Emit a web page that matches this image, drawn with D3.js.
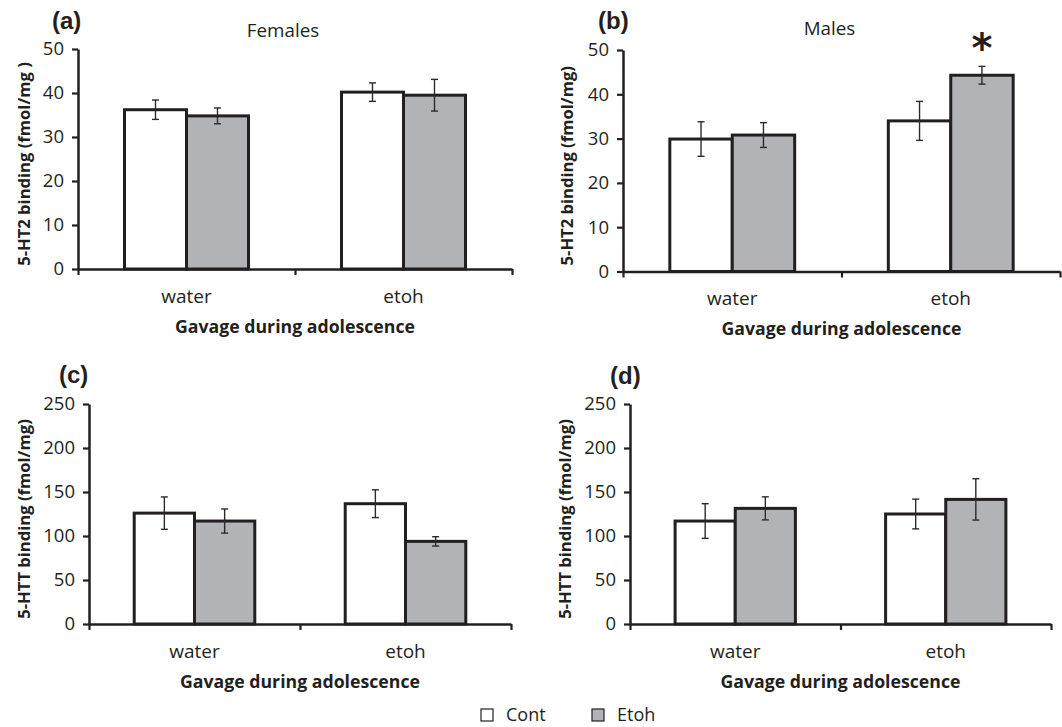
<!DOCTYPE html>
<html>
<head>
<meta charset="utf-8">
<script src="https://cdn.jsdelivr.net/npm/d3@7/dist/d3.min.js"></script>
<style>
  body { margin: 0; background: #fff; }
  svg text { fill: #231f20; }
</style>
</head>
<body>
<svg id="chart" width="1062" height="727"></svg>
<script>
// categories and series
var categories = ["water", "etoh"];
var series = ["Cont", "Etoh"];

// (a) females, 5-HT2 binding
var ht2FemaleCont = [36.2, 40.2], ht2FemaleContErr = [2.2, 2.1];
var ht2FemaleEtoh = [34.8, 39.5], ht2FemaleEtohErr = [1.8, 3.6];
// (b) males, 5-HT2 binding
var ht2MaleCont = [29.9, 34.0], ht2MaleContErr = [3.9, 4.4];
var ht2MaleEtoh = [30.8, 44.3], ht2MaleEtohErr = [2.8, 2.0];
// (c) 5-HTT binding
var httCCont = [126, 136.7], httCContErr = [18.4, 15.8];
var httCEtoh = [117, 93.9], httCEtohErr = [13.7, 5.3];
// (d) 5-HTT binding
var httDCont = [117, 125], httDContErr = [19.7, 16.9];
var httDEtoh = [131.4, 141.6], httDEtohErr = [13.1, 23.5];

var ht2Ticks = [0, 10, 20, 30, 40, 50];
var httTicks = [0, 50, 100, 150, 200, 250];

var panels = [
    {tag: "(a)", title: "Females", ylabel: "5-HT2 binding (fmol/mg )", ticks: ht2Ticks,
     cont: ht2FemaleCont, contErr: ht2FemaleContErr, etoh: ht2FemaleEtoh, etohErr: ht2FemaleEtohErr,
     star: null,
     box: {x0: 78, x1: 512, yTop: 49, y0: 269, labelX: 30, tagX: 52, tagY: 29, titleY: 37, catY: 303, xtitleY: 333}},
    {tag: "(b)", title: "Males", ylabel: "5-HT2 binding (fmol/mg)", ticks: ht2Ticks,
     cont: ht2MaleCont, contErr: ht2MaleContErr, etoh: ht2MaleEtoh, etohErr: ht2MaleEtohErr,
     star: 1,
     box: {x0: 623, x1: 1060, yTop: 50, y0: 271.5, labelX: 573, tagX: 598, tagY: 29, titleY: 35, catY: 305, xtitleY: 335}},
    {tag: "(c)", title: "", ylabel: "5-HTT binding (fmol/mg)", ticks: httTicks,
     cont: httCCont, contErr: httCContErr, etoh: httCEtoh, etohErr: httCEtohErr,
     star: null,
     box: {x0: 89, x1: 511, yTop: 404, y0: 624, labelX: 30, tagX: 59, tagY: 383, titleY: 0, catY: 658, xtitleY: 688}},
    {tag: "(d)", title: "", ylabel: "5-HTT binding (fmol/mg)", ticks: httTicks,
     cont: httDCont, contErr: httDContErr, etoh: httDEtoh, etohErr: httDEtohErr,
     star: null,
     box: {x0: 630, x1: 1051, yTop: 404, y0: 624, labelX: 571, tagX: 610, tagY: 384, titleY: 0, catY: 658, xtitleY: 688}}
];

var fills = {Cont: "#ffffff", Etoh: "#b2b3b6"};
var ink = "#231f20";
var font = "'Open Sans', sans-serif";

var svg = d3.select("#chart");

panels.forEach(drawPanel);
drawLegend();

function drawPanel(p) {
    var b = p.box;
    var g = svg.append("g");

    var x = d3.scaleBand().domain(categories).range([b.x0, b.x1]);
    var xs = d3.scaleBand().domain(series).range([0, x.bandwidth()]).paddingOuter(0.75);
    var y = d3.scaleLinear().domain([0, d3.max(p.ticks)]).range([b.y0, b.yTop]);

    var rows = [];
    categories.forEach(function(c, i) {
        rows.push({cat: c, s: "Cont", v: p.cont[i], e: p.contErr[i]});
        rows.push({cat: c, s: "Etoh", v: p.etoh[i], e: p.etohErr[i]});
    });

    g.selectAll(".bar").data(rows).enter()
        .append("rect")
        .attr("class", "bar")
        .attr("x", function(d) { return x(d.cat) + xs(d.s); })
        .attr("y", function(d) { return y(d.v); })
        .attr("width", xs.bandwidth())
        .attr("height", function(d) { return y(0) - y(d.v); })
        .attr("fill", function(d) { return fills[d.s]; })
        .attr("stroke", ink)
        .attr("stroke-width", 3);

    // error bars
    var eb = g.selectAll(".err").data(rows).enter().append("g")
        .attr("class", "err")
        .attr("transform", function(d) { return "translate(" + (x(d.cat) + xs(d.s) + xs.bandwidth() / 2) + ",0)"; })
        .attr("stroke", "#2b2b2b")
        .attr("stroke-width", 1.4);
    eb.append("line")
        .attr("y1", function(d) { return y(d.v + d.e); })
        .attr("y2", function(d) { return y(d.v - d.e); });
    eb.append("line").attr("x1", -3.5).attr("x2", 3.5)
        .attr("y1", function(d) { return y(d.v + d.e); })
        .attr("y2", function(d) { return y(d.v + d.e); });
    eb.append("line").attr("x1", -3.5).attr("x2", 3.5)
        .attr("y1", function(d) { return y(d.v - d.e); })
        .attr("y2", function(d) { return y(d.v - d.e); });

    // y axis
    var yAxis = g.append("g")
        .attr("transform", "translate(" + b.x0 + ",0)")
        .call(d3.axisLeft(y).tickValues(p.ticks).tickSize(6).tickSizeOuter(0).tickPadding(8));
    yAxis.select(".domain").attr("stroke", ink).attr("stroke-width", 2.5);
    yAxis.selectAll(".tick line").attr("stroke", ink).attr("stroke-width", 2.2);
    yAxis.selectAll(".tick text").attr("font-family", font).attr("font-size", "18.5px").attr("fill", "#333");

    // x axis line with boundary ticks
    var xb = d3.scaleLinear().domain([0, categories.length]).range([b.x0, b.x1]);
    var xAxis = g.append("g")
        .attr("transform", "translate(0," + b.y0 + ")")
        .call(d3.axisBottom(xb).tickValues(d3.range(categories.length + 1)).tickFormat("").tickSize(6).tickSizeOuter(0));
    xAxis.select(".domain").attr("stroke", ink).attr("stroke-width", 2.5);
    xAxis.selectAll(".tick line").attr("stroke", ink).attr("stroke-width", 2.2);

    // category labels
    g.selectAll(".cat").data(categories).enter()
        .append("text")
        .attr("class", "cat")
        .attr("x", function(d) { return x(d) + x.bandwidth() / 2; })
        .attr("y", b.catY)
        .attr("text-anchor", "middle")
        .attr("font-family", font)
        .attr("font-size", "19px")
        .text(function(d) { return d; });

    g.append("text")
        .attr("x", (b.x0 + b.x1) / 2)
        .attr("y", b.xtitleY)
        .attr("text-anchor", "middle")
        .attr("font-family", font)
        .attr("font-weight", "bold")
        .attr("font-size", "17.7px")
        .text("Gavage during adolescence");

    g.append("text")
        .attr("transform", "translate(" + b.labelX + "," + ((b.y0 + b.yTop) / 2 + 5) + ") rotate(-90)")
        .attr("text-anchor", "middle")
        .attr("font-family", font)
        .attr("font-weight", "bold")
        .attr("font-size", "16.6px")
        .text(p.ylabel);

    g.append("text")
        .attr("x", b.tagX)
        .attr("y", b.tagY)
        .attr("font-family", "'Liberation Sans', Arial, sans-serif")
        .attr("font-weight", "bold")
        .attr("font-size", "24px")
        .text(p.tag);

    if (p.title) {
        g.append("text")
            .attr("x", (b.x0 + b.x1) / 2 - 12)
            .attr("y", b.titleY)
            .attr("text-anchor", "middle")
            .attr("font-family", font)
            .attr("font-size", "18.8px")
            .text(p.title);
    }

    if (p.star !== null) {
        var i = p.star;
        g.append("text")
            .attr("x", x(categories[i]) + xs("Etoh") + xs.bandwidth() / 2)
            .attr("y", y(p.etoh[i] + p.etohErr[i]) - 4)
            .attr("text-anchor", "middle")
            .attr("font-family", "'DejaVu Sans', sans-serif")
            .attr("font-weight", "bold")
            .attr("font-size", "40px")
            .text("*");
    }
}

function drawLegend() {
    var lx = d3.scalePoint().domain(series).range([481, 592]);
    var items = svg.selectAll(".legend").data(series).enter().append("g")
        .attr("class", "legend")
        .attr("transform", function(d) { return "translate(" + lx(d) + ",709)"; });
    items.append("rect")
        .attr("width", 12).attr("height", 12)
        .attr("fill", function(d) { return fills[d]; })
        .attr("stroke", ink)
        .attr("stroke-width", 1.2);
    items.append("text")
        .attr("x", 25)
        .attr("y", 12)
        .attr("font-family", font)
        .attr("font-size", "18px")
        .text(function(d) { return d; });
}
</script>
</body>
</html>
